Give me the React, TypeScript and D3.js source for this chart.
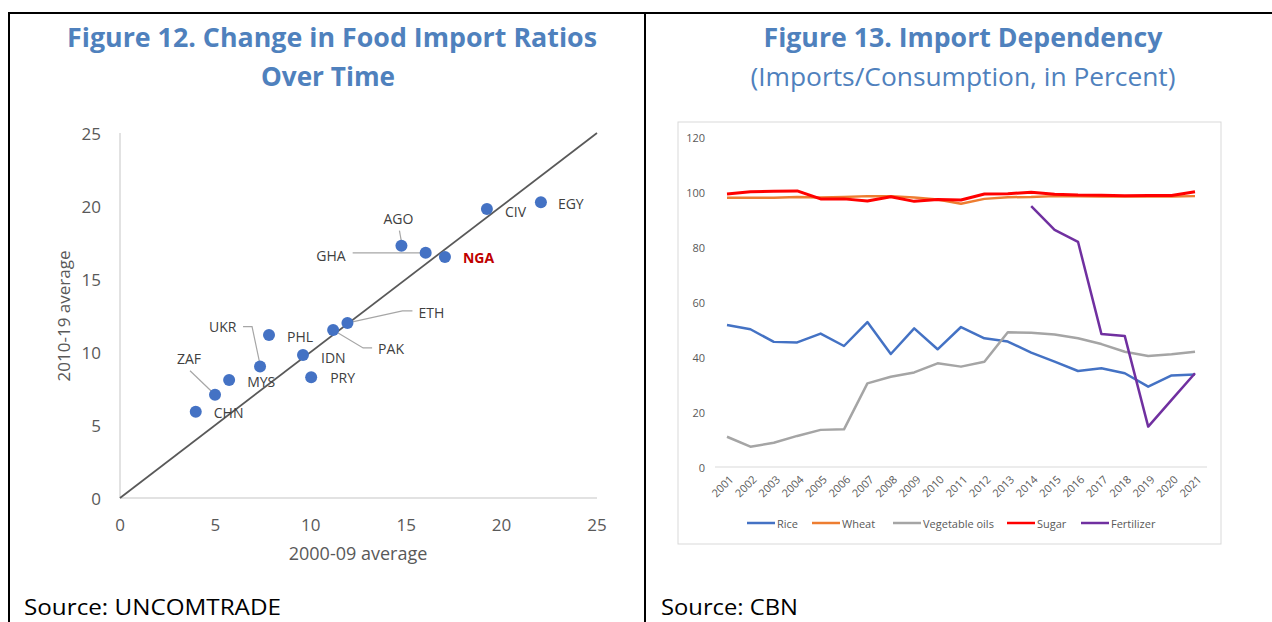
import React from "react";
import * as d3 from "d3";

// ---------- Figure 12 data ----------
const countries = ["CHN", "ZAF", "MYS", "UKR", "PHL", "IDN", "PRY", "PAK", "ETH", "AGO", "GHA", "NGA", "CIV", "EGY"];
const avg2000s = [3.97, 4.98, 5.72, 7.34, 7.81, 9.59, 10.02, 11.17, 11.92, 14.75, 16.02, 17.03, 19.23, 22.06];
const avg2010s = [5.9, 7.07, 8.08, 9.0, 11.16, 9.79, 8.27, 11.51, 11.99, 17.28, 16.79, 16.51, 19.79, 20.26];
const scatterTicks = [0, 5, 10, 15, 20, 25];

// ---------- Figure 13 data ----------
const years = ["2001", "2002", "2003", "2004", "2005", "2006", "2007", "2008", "2009", "2010", "2011", "2012", "2013", "2014", "2015", "2016", "2017", "2018", "2019", "2020", "2021"];
const rice = [51.6, 50.1, 45.5, 45.3, 48.5, 44.0, 52.7, 41.1, 50.4, 42.8, 50.9, 46.8, 45.6, 41.6, 38.3, 34.9, 35.9, 34.1, 29.2, 33.3, 33.6];
const wheat = [97.9, 97.9, 97.9, 98.2, 98.0, 98.2, 98.5, 98.5, 98.0, 97.3, 95.7, 97.5, 98.1, 98.2, 98.5, 98.5, 98.4, 98.4, 98.4, 98.4, 98.5];
const vegOils = [11.0, 7.4, 8.8, 11.3, 13.5, 13.7, 30.4, 32.8, 34.4, 37.7, 36.5, 38.3, 49.0, 48.8, 48.2, 46.8, 44.7, 41.9, 40.4, 41.0, 41.9];
const sugar = [99.3, 100.1, 100.3, 100.4, 97.5, 97.5, 96.7, 98.3, 96.6, 97.3, 97.1, 99.3, 99.4, 99.9, 99.2, 98.9, 98.8, 98.6, 98.7, 98.7, 100.1];
const fertilizer: (number | null)[] = [null, null, null, null, null, null, null, null, null, null, null, null, null, 94.9, 86.2, 81.9, 48.4, 47.6, 14.7, 24.4, 34.1];
const seriesNames = ["Rice", "Wheat", "Vegetable oils", "Sugar", "Fertilizer"];
const lineTicks = [0, 20, 40, 60, 80, 100, 120];

// ---------- layout / styles (not data) ----------
const seriesColors = ["#4472C4", "#ED7D31", "#A5A5A5", "#FF0000", "#7030A0"];
const seriesWidths = [2.5, 2.5, 2.5, 3, 2.5];
const legendX = [747, 812, 893, 1007, 1081];

type LabelLayout = { dx: number; dy: number; anchor: "start" | "middle" | "end"; leader?: [number, number][] };
const labelLayout: Record<string, LabelLayout> = {
  CHN: { dx: 18, dy: 1, anchor: "start" },
  ZAF: { dx: -26, dy: -36, anchor: "middle", leader: [[-25, -24], [-1, -1]] },
  MYS: { dx: 18, dy: 1, anchor: "start" },
  UKR: { dx: -51, dy: -40, anchor: "start", leader: [[-17, -40], [-8, -40], [0, -2]] },
  PHL: { dx: 18, dy: 1, anchor: "start" },
  IDN: { dx: 18, dy: 2, anchor: "start" },
  PRY: { dx: 19, dy: 0, anchor: "start" },
  PAK: { dx: 45, dy: 19, anchor: "start", leader: [[0, 0], [30, 18], [39, 18]] },
  ETH: { dx: 71, dy: -10, anchor: "start", leader: [[5, -1], [55, -12], [65, -12]] },
  AGO: { dx: -3, dy: -27, anchor: "middle", leader: [[-2, -15], [0, -4]] },
  GHA: { dx: -80, dy: 3, anchor: "end", leader: [[-73, 0], [-1, 0]] },
  NGA: { dx: 18, dy: 1, anchor: "start" },
  CIV: { dx: 18, dy: 2, anchor: "start" },
  EGY: { dx: 17, dy: 1, anchor: "start" },
};

const FONT = "'Open Sans', 'Segoe UI', sans-serif";
const TITLE_BLUE = "#4F81BD";

export default function App() {
  // scatter scales
  const sx = d3.scaleLinear().domain([0, 25]).range([120, 597]);
  const sy = d3.scaleLinear().domain([0, 25]).range([498, 133]);

  // line chart scales
  const lx = d3.scalePoint<string>().domain(years).range([727, 1195]);
  const ly = d3.scaleLinear().domain([0, 120]).range([467, 137]);
  const allSeries = [rice, wheat, vegOils, sugar, fertilizer];
  const lineGen = d3
    .line<number | null>()
    .defined((d) => d !== null)
    .x((_, i) => lx(years[i]) as number)
    .y((d) => ly(d as number));

  return (
    <svg width={1272} height={622} style={{ position: "absolute", left: 0, top: 0, background: "#fff" }} fontFamily={FONT}>
      <rect x={0} y={0} width={1272} height={622} fill="#fff" />
      {/* panel borders */}
      <line x1={8} y1={13} x2={1272} y2={13} stroke="#000" strokeWidth={2} />
      <line x1={9} y1={12} x2={9} y2={622} stroke="#000" strokeWidth={2} />
      <line x1={645} y1={12} x2={645} y2={622} stroke="#000" strokeWidth={2} />

      {/* ===== Figure 12 ===== */}
      <text x={332} y={36} textAnchor="middle" dominantBaseline="central" fontSize={27} fontWeight={700} fill={TITLE_BLUE} textLength={530} lengthAdjust="spacingAndGlyphs">
        Figure 12. Change in Food Import Ratios
      </text>
      <text x={328} y={75} textAnchor="middle" dominantBaseline="central" fontSize={27} fontWeight={700} fill={TITLE_BLUE} textLength={134} lengthAdjust="spacingAndGlyphs">
        Over Time
      </text>

      {/* axes */}
      <line x1={sx(0)} y1={sy(0)} x2={sx(0)} y2={sy(25)} stroke="#d9d9d9" strokeWidth={1.5} />
      <line x1={sx(0)} y1={sy(0)} x2={sx(25)} y2={sy(0)} stroke="#d9d9d9" strokeWidth={1.5} />
      {scatterTicks.map((t) => (
        <text key={"sy" + t} x={101} y={sy(t)} textAnchor="end" dominantBaseline="central" fontSize={17} fill="#595959">
          {t}
        </text>
      ))}
      {scatterTicks.map((t) => (
        <text key={"sx" + t} x={sx(t)} y={524} textAnchor="middle" dominantBaseline="central" fontSize={17} fill="#595959">
          {t}
        </text>
      ))}
      <text x={358} y={553} textAnchor="middle" dominantBaseline="central" fontSize={18} fill="#595959">
        2000-09 average
      </text>
      <text transform={`translate(63,${316}) rotate(-90)`} textAnchor="middle" dominantBaseline="central" fontSize={17} fill="#595959">
        2010-19 average
      </text>

      {/* 45-degree line */}
      <line x1={sx(0)} y1={sy(0)} x2={sx(25)} y2={sy(25)} stroke="#595959" strokeWidth={1.75} />

      {/* leaders */}
      {countries.map((c, i) => {
        const L = labelLayout[c];
        if (!L.leader) return null;
        const px = sx(avg2000s[i]);
        const py = sy(avg2010s[i]);
        const pts = L.leader.map(([a, b]) => [px + a, py + b] as [number, number]);
        return <path key={"ld" + c} d={d3.line()(pts) as string} fill="none" stroke="#a6a6a6" strokeWidth={1.2} />;
      })}

      {/* points */}
      {countries.map((c, i) => (
        <circle key={"pt" + c} cx={sx(avg2000s[i])} cy={sy(avg2010s[i])} r={6} fill="#4472C4" />
      ))}

      {/* labels */}
      {countries.map((c, i) => {
        const L = labelLayout[c];
        const px = sx(avg2000s[i]);
        const py = sy(avg2010s[i]);
        const isNGA = c === "NGA";
        return (
          <text key={"lb" + c} x={px + L.dx} y={py + L.dy} textAnchor={L.anchor} dominantBaseline="central" fontSize={14} fontWeight={isNGA ? 700 : 400} fill={isNGA ? "#C00000" : "#404040"}>
            {c}
          </text>
        );
      })}

      <text x={24} y={606} dominantBaseline="central" fontSize={22} fill="#000" textLength={257} lengthAdjust="spacingAndGlyphs">
        Source: UNCOMTRADE
      </text>

      {/* ===== Figure 13 ===== */}
      <text x={963} y={36} textAnchor="middle" dominantBaseline="central" fontSize={27} fontWeight={700} fill={TITLE_BLUE} textLength={399} lengthAdjust="spacingAndGlyphs">
        Figure 13. Import Dependency
      </text>
      <text x={963} y={76} textAnchor="middle" dominantBaseline="central" fontSize={25} fontWeight={400} fill={TITLE_BLUE} textLength={425} lengthAdjust="spacingAndGlyphs">
        (Imports/Consumption, in Percent)
      </text>

      <rect x={678} y={122} width={543} height={422} fill="#fff" stroke="#d9d9d9" strokeWidth={1} />

      {lineTicks.map((t) => (
        <text key={"ly" + t} x={705} y={ly(t)} textAnchor="end" dominantBaseline="central" fontSize={11} fill="#595959">
          {t}
        </text>
      ))}
      <line x1={715} y1={ly(0)} x2={1207} y2={ly(0)} stroke="#d9d9d9" strokeWidth={1} />
      {years.map((yr) => (
        <text key={"lx" + yr} transform={`translate(${(lx(yr) as number) + 4},${477}) rotate(-45)`} textAnchor="end" dominantBaseline="central" fontSize={11} fill="#595959">
          {yr}
        </text>
      ))}

      {allSeries.map((s, k) => (
        <path key={"ln" + k} d={lineGen(s) as string} fill="none" stroke={seriesColors[k]} strokeWidth={seriesWidths[k]} strokeLinejoin="round" />
      ))}

      {/* legend */}
      {seriesNames.map((n, k) => (
        <g key={"lg" + n}>
          <line x1={legendX[k]} y1={523} x2={legendX[k] + 28} y2={523} stroke={seriesColors[k]} strokeWidth={2.5} />
          <text x={legendX[k] + 30} y={523} dominantBaseline="central" fontSize={11} fill="#595959">
            {n}
          </text>
        </g>
      ))}

      <text x={661} y={606} dominantBaseline="central" fontSize={22} fill="#000" textLength={137} lengthAdjust="spacingAndGlyphs">
        Source: CBN
      </text>
    </svg>
  );
}
